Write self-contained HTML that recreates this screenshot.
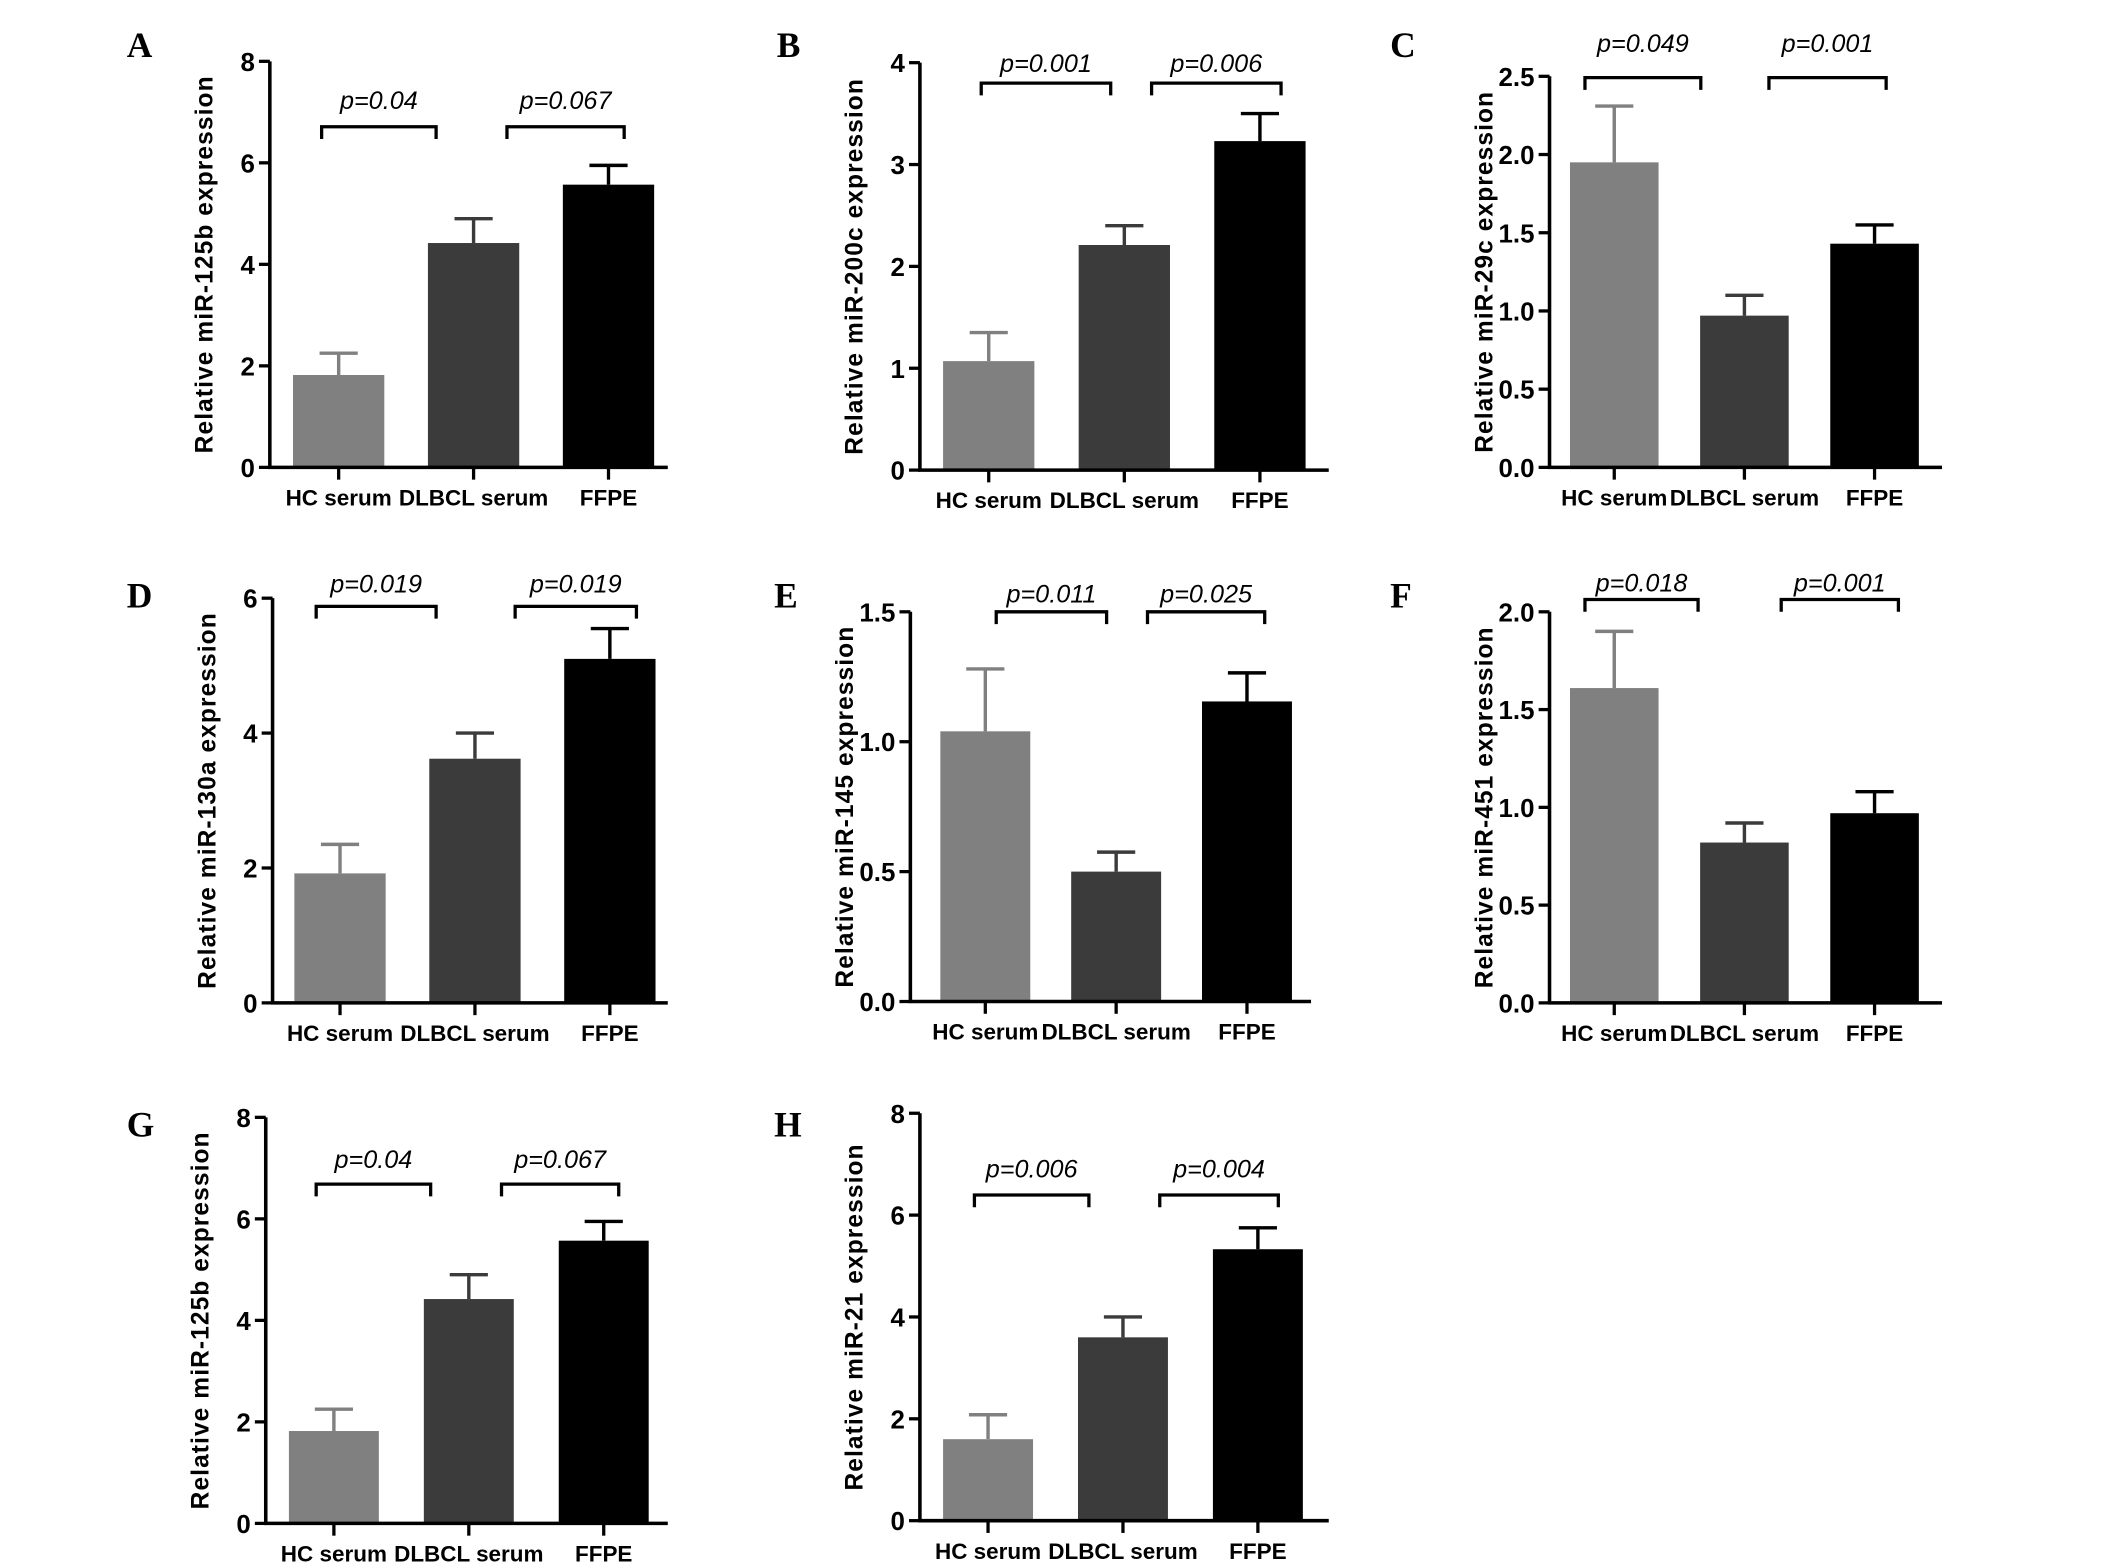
<!DOCTYPE html>
<html><head><meta charset="utf-8"><style>
html,body{margin:0;padding:0;background:#fff;}
svg{display:block;}
</style></head><body>
<svg id="fig" width="2126" height="1567" viewBox="0 0 1560 1150" preserveAspectRatio="none" xmlns="http://www.w3.org/2000/svg"></svg>
<script>
const categories = ["HC serum", "DLBCL serum", "FFPE"];
const panelLetters = ["A","B","C","D","E","F","G","H"];
const yTitles = ["Relative miR-125b expression","Relative miR-200c expression","Relative miR-29c expression","Relative miR-130a expression","Relative miR-145 expression","Relative miR-451 expression","Relative miR-125b expression","Relative miR-21 expression"];
const meanA = [1.82, 4.42, 5.57], errA = [2.25, 4.9, 5.95];
const meanB = [1.07, 2.21, 3.23], errB = [1.35, 2.4, 3.5];
const meanC = [1.95, 0.97, 1.43], errC = [2.31, 1.1, 1.55];
const meanD = [1.92, 3.62, 5.1], errD = [2.35, 4.0, 5.55];
const meanE = [1.04, 0.5, 1.155], errE = [1.28, 0.575, 1.265];
const meanF = [1.61, 0.82, 0.97], errF = [1.9, 0.92, 1.08];
const meanG = [1.82, 4.42, 5.57], errG = [2.25, 4.9, 5.95];
const meanH = [1.6, 3.6, 5.33], errH = [2.08, 4.0, 5.75];
const ticksA = ["0","2","4","6","8"], ticksB = ["0","1","2","3","4"], ticksC = ["0.0","0.5","1.0","1.5","2.0","2.5"];
const ticksD = ["0","2","4","6"], ticksE = ["0.0","0.5","1.0","1.5"], ticksF = ["0.0","0.5","1.0","1.5","2.0"];
const pLeft = ["p=0.04","p=0.001","p=0.049","p=0.019","p=0.011","p=0.018","p=0.04","p=0.006"];
const pRight = ["p=0.067","p=0.006","p=0.001","p=0.019","p=0.025","p=0.001","p=0.067","p=0.004"];

const means=[meanA,meanB,meanC,meanD,meanE,meanF,meanG,meanH];
const errs=[errA,errB,errC,errD,errE,errF,errG,errH];
const ticks=[ticksA,ticksB,ticksC,ticksD,ticksE,ticksF,ticksA,ticksA];
const L=[
 {ax:198,y0:343,yt:45,xe:490,b0:215,bs:99,bw:67,lx:93,ly:42,by:93,lb:[236,320],rb:[372,458],py:73},
 {ax:675,y0:345,yt:46,xe:975,b0:692,bs:99.5,bw:67,lx:570,ly:42,by:61,lb:[720,815],rb:[845,940],py:46},
 {ax:1137,y0:343,yt:56,xe:1425,b0:1152,bs:95.5,bw:65,lx:1020,ly:42,by:57,lb:[1163,1248],rb:[1298,1384],py:31},
 {ax:200,y0:736,yt:439,xe:490,b0:216,bs:99,bw:67,lx:93,ly:446,by:445,lb:[232,320],rb:[378,467],py:428},
 {ax:668,y0:735,yt:449,xe:962,b0:690,bs:96,bw:66,lx:568,ly:446,by:449,lb:[731,812],rb:[842,928],py:435},
 {ax:1137,y0:736,yt:449,xe:1425,b0:1152,bs:95.5,bw:65,lx:1020,ly:446,by:440,lb:[1163,1246],rb:[1307,1393],py:427},
 {ax:195,y0:1118,yt:820,xe:490,b0:212,bs:99,bw:66,lx:93,ly:834,by:869,lb:[232,316],rb:[368,454],py:850},
 {ax:675,y0:1116,yt:817,xe:975,b0:692,bs:99,bw:66,lx:568,ly:834,by:877,lb:[715,799],rb:[851,938],py:857}
];
const colors=["#808080","#3b3b3b","#000000"];
const svg=document.getElementById('fig');
const NS="http://www.w3.org/2000/svg";
function mk(tag,attrs,parent){const e=document.createElementNS(NS,tag);for(const k in attrs)e.setAttribute(k,attrs[k]);(parent||svg).appendChild(e);return e;}
for(let p=0;p<8;p++){
 const c=L[p];
 const g=mk('g',{});
 
 
 const tk=ticks[p];const ymax=parseFloat(tk[tk.length-1]);
 const y=v=>c.y0-(v/ymax)*(c.y0-c.yt);
 const cx=i=>c.b0+i*c.bs+c.bw/2;
 const lt=mk('text',{x:c.lx,y:c.ly,'font-family':'Liberation Serif, serif','font-weight':'bold','font-size':26},g);
 lt.textContent=panelLetters[p];
 
 
 for(let i=0;i<3;i++){
  const top=y(means[p][i]), et=y(errs[p][i]);
  const r=mk('rect',{x:c.b0+i*c.bs,y:top,width:c.bw,height:c.y0-top,fill:colors[i]},g);
  
  
  const eb=mk('path',{d:`M${cx(i)},${top} V${et} M${cx(i)-14},${et} H${cx(i)+14}`,stroke:colors[i],'stroke-width':2.5,fill:'none'},g);
  
  
 }
 const ax=mk('path',{d:`M${c.ax},${c.yt} V${c.y0} H${c.xe}`,stroke:'#000','stroke-width':2.6,fill:'none'},g);
 
 
 tk.forEach(t=>{
  const yy=y(parseFloat(t));
  mk('line',{x1:c.ax-8,x2:c.ax,y1:yy,y2:yy,stroke:'#000','stroke-width':2.4},g);
  const tt=mk('text',{x:c.ax-11,y:yy+7,'text-anchor':'end','font-family':'Liberation Sans, sans-serif','font-weight':'bold','font-size':19},g);
  tt.textContent=t;
  
  
 });
 for(let i=0;i<3;i++){
  mk('line',{x1:cx(i),x2:cx(i),y1:c.y0,y2:c.y0+9,stroke:'#000','stroke-width':2.4},g);
  const xt=mk('text',{x:cx(i),y:c.y0+28,'text-anchor':'middle','font-family':'Liberation Sans, sans-serif','font-weight':'bold','font-size':16.5},g);
  xt.textContent=categories[i];
  
  
 }
 const yl=mk('text',{x:0,y:0,transform:`translate(${c.ax-42},${(c.y0+c.yt)/2}) rotate(-90)`,'text-anchor':'middle','font-family':'Liberation Sans, sans-serif','font-weight':'bold','font-size':18,'letter-spacing':'0.8'},g);
 yl.textContent=yTitles[p];
 
 
 [[c.lb,pLeft[p]],[c.rb,pRight[p]]].forEach(([b,txt])=>{
  const br=mk('path',{d:`M${b[0]},${c.by+9} V${c.by} H${b[1]} V${c.by+9}`,stroke:'#000','stroke-width':2.4,fill:'none'},g);
  
  
  const pt=mk('text',{x:(b[0]+b[1])/2,y:c.py+7,'text-anchor':'middle','font-family':'Liberation Sans, sans-serif','font-style':'italic','font-size':18.5},g);
  pt.textContent=txt;
  
  
 });
}
</script>
</body></html>
